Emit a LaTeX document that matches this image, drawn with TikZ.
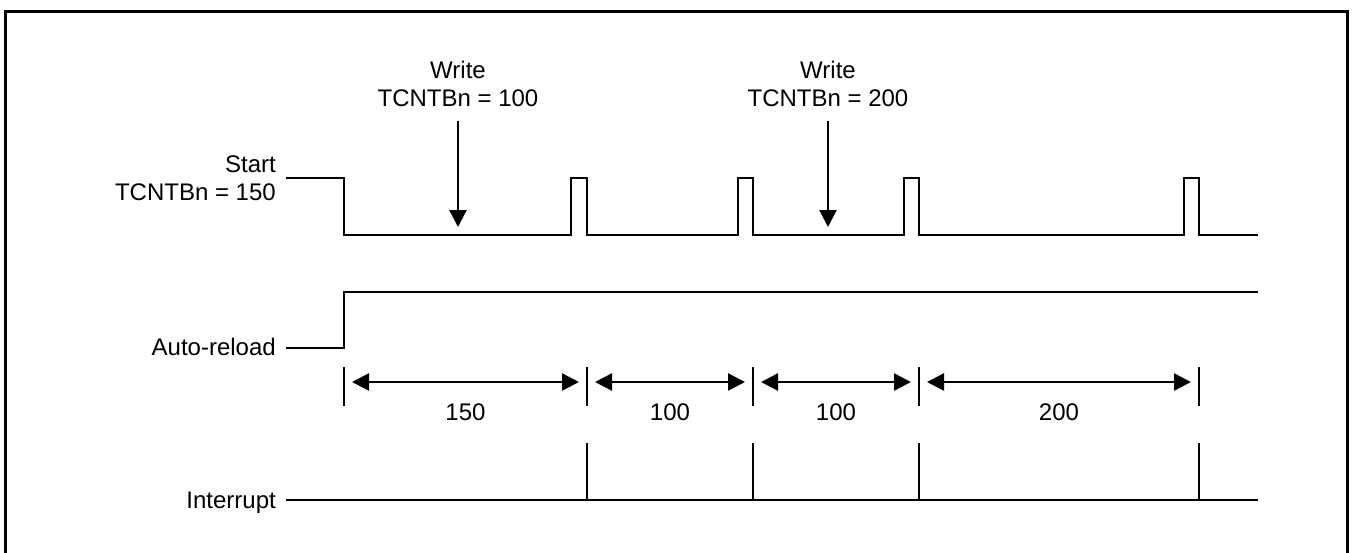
\documentclass[tikz,border=0pt]{standalone}
\usepackage{fontspec}
\setmainfont{Liberation Sans}
\usetikzlibrary{arrows.meta}
\begin{document}
\begin{tikzpicture}[x=1pt,y=-1pt,
  sig/.style={line width=2.4pt, line join=miter, line cap=rect},
  tickline/.style={line width=2pt},
  dimarrow/.style={line width=2.4pt, {Triangle[length=17pt,width=17pt]}-{Triangle[length=17pt,width=17pt]}},
  downarrow/.style={line width=2.4pt, -{Triangle[length=17pt,width=17pt]}},
  lbl/.style={font=\fontsize{24}{28}\selectfont, inner sep=0pt},
]
\clip (0,0) rectangle (1353,552);
\useasboundingbox (0,0) rectangle (1353,552);
\draw[line width=3pt] (5,11) rectangle (1347,580);

% labels
\node[lbl, align=right, anchor=east] (start) at (276,178) {Start\\TCNTBn = 150};
\node[lbl, anchor=base east] (auto) at (276,355) {Auto-reload};
\node[lbl, anchor=base east] (intr) at (276,508.5) {Interrupt};
\node[lbl, align=center] (w1) at (458,83.5) {Write\\TCNTBn = 100};
\node[lbl, align=center] (w2) at (828,83.5) {Write\\TCNTBn = 200};

% timer output waveform
\draw[sig] ([xshift=11pt]start.east) -- (344,178) -- (344,235) -- (571,235) -- (571,178) -- (587,178)
  -- (587,235) -- (738,235) -- (738,178) -- (753,178) -- (753,235) -- (904,235) -- (904,178)
  -- (919,178) -- (919,235) -- (1184,235) -- (1184,178) -- (1199,178) -- (1199,235) -- (1257,235);

% auto-reload
\draw[sig] ([xshift=11pt]auto.base east |- 0,348) -- (344,348) -- (344,292) -- (1257,292);

% interrupt
\draw[sig] ([xshift=11pt]intr.base east |- 0,500) -- (1257,500);
\foreach \x in {587,753,919,1199}
  \draw[tickline] (\x,443) -- (\x,500);

% write arrows
\coordinate (a1) at (458,227);
\coordinate (a2) at (828,227);
\draw[downarrow] ([yshift=-14pt]w1.south) -- (a1);
\draw[downarrow] ([yshift=-14pt]w2.south) -- (a2);

% dimension ticks
\foreach \x in {344,587,753,919,1199}
  \draw[tickline] (\x,367) -- (\x,406);

% dimension arrows
\coordinate (d0) at (344,382);
\coordinate (d1) at (587,382);
\coordinate (d2) at (753,382);
\coordinate (d3) at (919,382);
\coordinate (d4) at (1199,382);
\draw[dimarrow] ([xshift=8pt]d0) -- ([xshift=-8pt]d1);
\draw[dimarrow] ([xshift=8pt]d1) -- ([xshift=-8pt]d2);
\draw[dimarrow] ([xshift=8pt]d2) -- ([xshift=-8pt]d3);
\draw[dimarrow] ([xshift=8pt]d3) -- ([xshift=-8pt]d4);

\node[lbl, anchor=base] (n1) at (465.5,420) {150};
\node[lbl, anchor=base] (n2) at (670,420) {100};
\node[lbl, anchor=base] (n3) at (836,420) {100};
\node[lbl, anchor=base] (n4) at (1059,420) {200};
\end{tikzpicture}
\end{document}
